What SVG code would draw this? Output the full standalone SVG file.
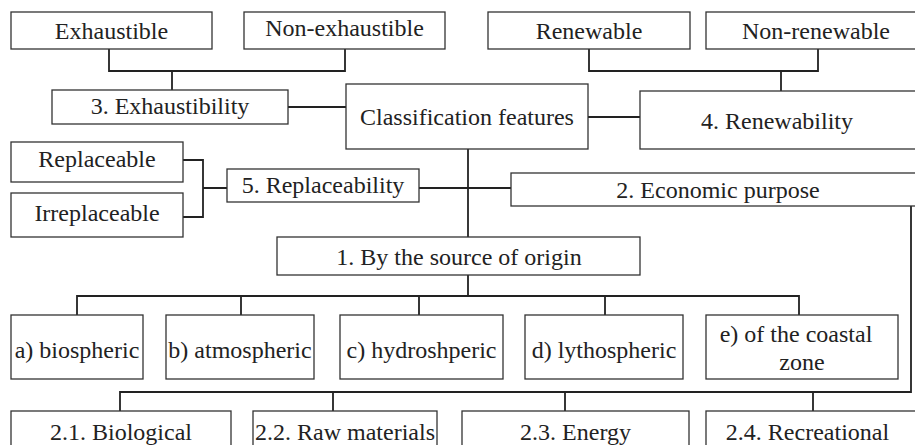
<svg xmlns="http://www.w3.org/2000/svg" width="915" height="445" viewBox="0 0 915 445">
<style>
.box{fill:#fff;stroke:#333;stroke-width:1.3}
.t{font-family:'Liberation Serif','Times New Roman',serif;font-size:24px;fill:#222;text-anchor:middle}
.c{fill:none;stroke:#222;stroke-width:1.8}
</style>
<rect width="915" height="445" fill="#fff"/>
<g id="connectors">
<path class="c" d="M109 49V71H345V49M172 71V90"/>
<path class="c" d="M589 49V71H818V49M781 71V91"/>
<path class="c" d="M288 107H346"/>
<path class="c" d="M588 117H640"/>
<path class="c" d="M183 160H203V217H183M203 188H227"/>
<path class="c" d="M419 188H511"/>
<path class="c" d="M468 149V237"/>
<path class="c" d="M468 275V296M77 315V296H799V315M241 296V315M419 296V315M605 296V315"/>
<path class="c" d="M911 206V392H120V411M333 392V411M565 392V411M813 392V411"/>
</g>
<g id="exhaustible"><rect class="box" x="11" y="12" width="201" height="37"/><text class="t" x="111.5" y="39">Exhaustible</text></g>
<g id="non-exhaustible"><rect class="box" x="244" y="12" width="201" height="37"/><text class="t" x="344.5" y="36">Non-exhaustible</text></g>
<g id="renewable"><rect class="box" x="488" y="12" width="202" height="37"/><text class="t" x="589" y="39">Renewable</text></g>
<g id="non-renewable"><rect class="box" x="706" y="12" width="220" height="37"/><text class="t" x="816" y="39">Non-renewable</text></g>
<g id="exhaustibility"><rect class="box" x="52" y="90" width="236" height="34"/><text class="t" x="170" y="114">3. Exhaustibility</text></g>
<g id="classification"><rect class="box" x="346" y="84" width="242" height="65"/><text class="t" x="467" y="125">Classification features</text></g>
<g id="renewability"><rect class="box" x="640" y="91" width="280" height="58"/><text class="t" x="777" y="129">4. Renewability</text></g>
<g id="replaceable"><rect class="box" x="11" y="142" width="172" height="40"/><text class="t" x="97" y="167">Replaceable</text></g>
<g id="irreplaceable"><rect class="box" x="11" y="193" width="172" height="44"/><text class="t" x="97" y="221">Irreplaceable</text></g>
<g id="replaceability"><rect class="box" x="227" y="169" width="192" height="33"/><text class="t" x="323" y="193">5. Replaceability</text></g>
<g id="economic"><rect class="box" x="511" y="173" width="414" height="33"/><text class="t" x="718" y="198">2. Economic purpose</text></g>
<g id="origin"><rect class="box" x="277" y="237" width="363" height="38"/><text class="t" x="459" y="265">1. By the source of origin</text></g>
<g id="biospheric"><rect class="box" x="11" y="315" width="132" height="64"/><text class="t" x="77" y="358">a) biospheric</text></g>
<g id="atmospheric"><rect class="box" x="166" y="315" width="148" height="64"/><text class="t" x="240" y="358">b) atmospheric</text></g>
<g id="hydrospheric"><rect class="box" x="340" y="315" width="163" height="64"/><text class="t" x="421.5" y="358">c) hydroshperic</text></g>
<g id="lithospheric"><rect class="box" x="525" y="315" width="158" height="64"/><text class="t" x="604" y="358">d) lythospheric</text></g>
<g id="coastal"><rect class="box" x="706" y="315" width="192" height="64"/><text class="t" x="796" y="342">e) of the coastal</text><text class="t" x="802" y="370">zone</text></g>
<g id="biological"><rect class="box" x="11" y="411" width="220" height="50"/><text class="t" x="121" y="440">2.1. Biological</text></g>
<g id="raw"><rect class="box" x="253" y="411" width="184" height="50"/><text class="t" x="345" y="440">2.2. Raw materials</text></g>
<g id="energy"><rect class="box" x="462" y="411" width="227" height="50"/><text class="t" x="575.5" y="440">2.3. Energy</text></g>
<g id="recreational"><rect class="box" x="706" y="411" width="220" height="50"/><text class="t" x="807.5" y="440">2.4. Recreational</text></g>
</svg>
